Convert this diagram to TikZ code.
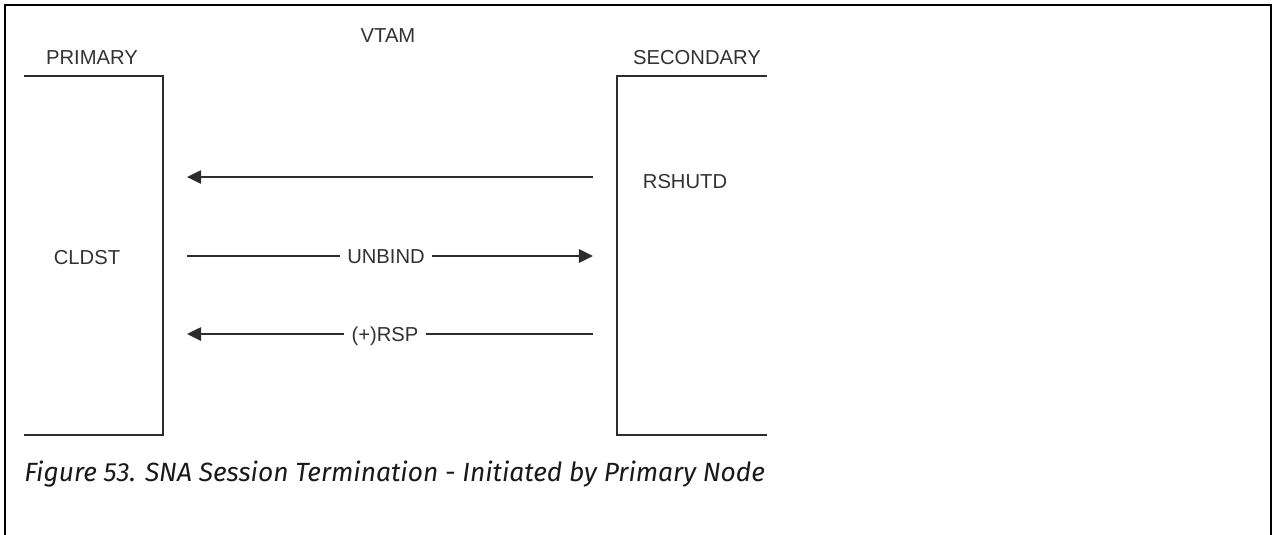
\documentclass[tikz,border=0pt]{standalone}
\usepackage{fontspec}
\usepackage{tikz}
\usetikzlibrary{positioning, arrows.meta}
\newfontfamily\diagfont{Liberation Sans}
\newfontfamily\capfont{Fira Sans}
\definecolor{textgray}{RGB}{50, 50, 50}
\definecolor{linegray}{RGB}{45, 45, 45}
\tikzset{
    lbl/.style={font=\diagfont\fontsize{11.5}{13}\selectfont, text=textgray, inner sep=0pt, text height=8.2pt, text depth=0pt},
    msg/.style={lbl, fill=white, inner sep=4pt},
    side/.style={draw=linegray, line width=1.25pt},
    flow/.style={-{Triangle[length=8pt, width=7.5pt]}, draw=linegray, line width=1.25pt},
    frame/.style={draw=black, line width=1.6pt},
}

\begin{document}
\begin{tikzpicture}[x=0.02cm, y=-0.02cm]
\useasboundingbox (0,0) rectangle (1274,534);
% outer frame, open at the bottom
\draw[frame] (5,540) -- (5,5) -- (1271,5) -- (1271,540);
% primary and secondary sides
\draw[side] (24,76) -- (163,76) -- (163,435) -- (24,435);
\draw[side] (767,76) -- (617,76) -- (617,435) -- (767,435);
\node[lbl] (primary) at (92,57) {PRIMARY};
\node[lbl] (secondary) at (697,57) {SECONDARY};
\node[lbl] (vtam) at (388,35) {VTAM};
\node[lbl] (cldst) at (87,257) {CLDST};
\node[lbl] (rshutd) at (685,181) {RSHUTD};
% message ends
\coordinate (p1) at (187,177);
\coordinate (s1) at (593,177);
\coordinate (p2) at (187,256);
\coordinate (s2) at (593,256);
\coordinate (p3) at (187,334);
\coordinate (s3) at (593,334);
\node[msg] (unbind) at (386,256) {UNBIND};
\node[msg] (rsp) at (385,334) {(+)RSP};
\draw[flow] (s1) -- (p1);
\draw[side] (p2) -- (unbind);
\draw[flow] (unbind) -- (s2);
\draw[side] (s3) -- (rsp);
\draw[flow] (rsp) -- (p3);
\node[font=\capfont\itshape\fontsize{15}{17}\selectfont, text=black!90, anchor=base west, inner sep=0pt] (caption) at (24,481) {Figure 53. SNA Session Termination - Initiated by Primary Node};
\end{tikzpicture}
\end{document}
